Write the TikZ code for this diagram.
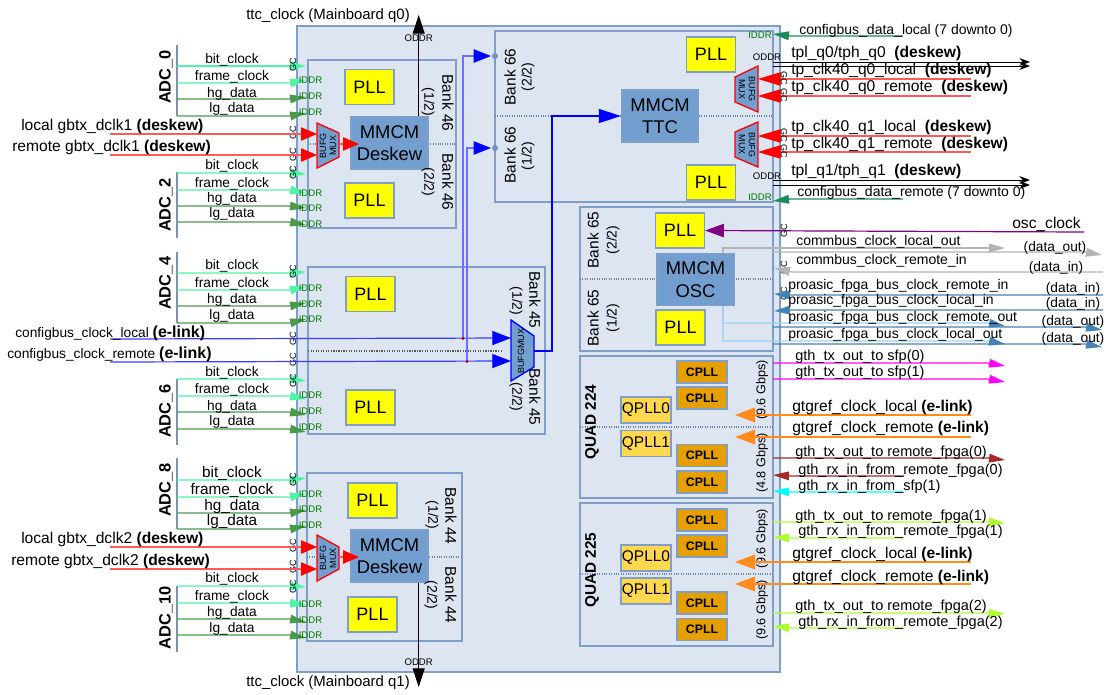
\documentclass[tikz,border=0pt]{standalone}
\usepackage{fontspec}
\setmainfont{Liberation Sans}
\usetikzlibrary{arrows.meta}

\definecolor{fpgafill}{HTML}{DDE5F0}
\definecolor{boxline}{HTML}{7F9FC8}
\definecolor{mmcmfill}{HTML}{729FCF}
\definecolor{pllfill}{HTML}{FFFF00}
\definecolor{cpllfill}{HTML}{E69F00}
\definecolor{qpllfill}{HTML}{FFD84D}
\definecolor{clkline}{HTML}{4DF5A5}
\definecolor{datline}{HTML}{4A9A4A}
\definecolor{iddrtxt}{HTML}{007A00}
\definecolor{cfgdata}{HTML}{1E8A5A}
\definecolor{redline}{HTML}{FF5A5A}
\definecolor{proasic}{HTML}{4682B4}
\definecolor{lightblue}{HTML}{9CD0F0}
\definecolor{gtgorange}{HTML}{FF8C1A}
\definecolor{brownred}{HTML}{A52A2A}
\definecolor{limeline}{HTML}{ADFF2F}
\definecolor{purpleosc}{HTML}{800080}
\definecolor{blueline}{HTML}{3C3CFF}
\definecolor{sfpmag}{HTML}{FF00FF}
\definecolor{sfpcyan}{HTML}{00FFFF}
\definecolor{grayline}{HTML}{B4B4B4}

\tikzset{
  bankbox/.style={draw=boxline, line width=1.1pt},
  pll/.style={draw=boxline, line width=1pt, fill=pllfill, minimum width=36.75pt, minimum height=26.25pt, inner sep=0pt, font=\fontsize{13.5}{16}\selectfont},
  mmcm/.style={draw=boxline, line width=1pt, fill=mmcmfill, minimum width=57.75pt, minimum height=39pt, inner sep=0pt, align=center, font=\fontsize{13.8}{17}\selectfont},
  cpll/.style={draw=boxline, line width=1pt, fill=cpllfill, minimum width=37.5pt, minimum height=16.5pt, inner sep=0pt, font=\bfseries\fontsize{9.2}{11}\selectfont},
  qpll/.style={draw=boxline, line width=1pt, fill=qpllfill, minimum width=37.5pt, minimum height=19.5pt, inner sep=0pt, font=\fontsize{11.6}{14}\selectfont},
  muxtxt/.style={inner sep=0pt, align=center, font=\fontsize{6.75}{7.5}\selectfont},
  gctag/.style={inner sep=0pt, rotate=90, font=\fontsize{6.8}{7}\selectfont},
  iddr/.style={inner sep=0pt, text=iddrtxt, font=\fontsize{7.2}{8}\selectfont},
  oddr/.style={inner sep=0pt, font=\fontsize{7.2}{8}\selectfont},
  adclbl/.style={inner sep=0pt, font=\fontsize{10.3}{12}\selectfont},
  adclblb/.style={inner sep=0pt, font=\fontsize{11.5}{13}\selectfont},
  adcname/.style={inner sep=0pt, rotate=90, font=\bfseries\fontsize{12.3}{14}\selectfont},
  banktxt/.style={inner sep=0pt, font=\fontsize{11.6}{13}\selectfont},
  parttxt/.style={inner sep=0pt, font=\fontsize{10.5}{12}\selectfont},
  gbpstxt/.style={inner sep=0pt, rotate=90, font=\fontsize{9.5}{11}\selectfont},
  txtm/.style={inner sep=0pt, anchor=west, font=\fontsize{11.7}{13}\selectfont},
  txts/.style={inner sep=0pt, anchor=west, font=\fontsize{10.5}{12}\selectfont},
  txtd/.style={inner sep=0pt, font=\fontsize{10.3}{12}\selectfont},
  redtip/.style={draw=redline, line width=0.9pt, -{Triangle[length=12pt,width=10pt,color=red]}},
  bluetip/.style={draw=blueline, line width=0.9pt, -{Triangle[length=14pt,width=10.5pt,color=blue]}},
  thintip/.style={line width=0.9pt, -{Triangle[length=12pt,width=6.5pt]}},
  blacktip/.style={line width=0.7pt, -{Triangle[length=14pt,width=9pt]}},
  wiretip/.style={line width=0.7pt, -{Stealth[length=8pt,width=6pt]}},
  dots/.style={densely dotted, line width=0.8pt, draw=boxline!85!black},
}

\begin{document}
\begin{tikzpicture}[x=0.75pt,y=-0.75pt]
    \useasboundingbox (0,0) rectangle (1106,694);

    % FPGA and banks
    \draw[bankbox, fill=fpgafill] (297,26) rectangle (780,672);
    \draw[bankbox] (308,60) rectangle (456,228);
    \draw[bankbox] (308,267) rectangle (545,434);
    \draw[bankbox] (307,473) rectangle (462,641);
    \draw[bankbox] (495,31) rectangle (773,202);
    \draw[bankbox] (580,207) rectangle (773,351);
    \draw[bankbox] (580,356) rectangle (773,498);
    \draw[bankbox] (580,503) rectangle (773,646);

    \draw[dots] (308,144) -- (456,144);
    \draw[dots] (307,557) -- (462,557);
    \draw[dots] (495,116) -- (773,116);
    \draw[dots] (580,279) -- (773,279);
    \draw[dots] (580,427) -- (773,427);
    \draw[dots] (580,574) -- (773,574);
    \draw[densely dotted, line width=0.9pt, gray!70!black] (308,351) -- (502,351);

    % PLL and MMCM blocks
    \foreach \n/\x/\y in {a/369.5/87, b/369.5/200.5, c/370.5/294, d/370.5/407.5, e/372.5/500.5, f/372.5/614.5,
                          g/711/54.5, h/711/182.5, i/680/230.5, j/680.5/327.5}
      \node[pll] (pll\n) at (\x,\y) {PLL};
    \node[mmcm] (mmcmA) at (389.5,143) {MMCM\\Deskew};
    \node[mmcm] (mmcmB) at (389.5,556) {MMCM\\Deskew};
    \node[mmcm] (mmcmT) at (660,116) {MMCM\\TTC};
    \node[mmcm] (mmcmO) at (695.5,279.5) {MMCM\\OSC};
    \foreach \n/\y in {a/372, b/398, c/455.5, d/482, e/520, f/546, g/603, h/629.5}
      \node[cpll] (cpll\n) at (702,\y) {CPLL};
    \foreach \n/\t/\y in {a/0/410, b/1/443.5, c/0/558, d/1/591}
      \node[qpll] (qpll\n) at (646,\y) {QPLL\t};

    % BUFG muxes
    \draw[draw=red, line width=1pt, fill=mmcmfill] (317,123) -- (339,133) -- (339,157) -- (317,168) -- cycle;
    \draw[draw=red, line width=1pt, fill=mmcmfill] (317,535) -- (339,547) -- (339,569) -- (317,581) -- cycle;
    \draw[draw=red, line width=1pt, fill=mmcmfill] (758,66) -- (735,77) -- (735,102) -- (758,112) -- cycle;
    \draw[draw=red, line width=1pt, fill=mmcmfill] (758,122) -- (735,132) -- (735,157) -- (758,167) -- cycle;
    \draw[draw=blue, line width=1pt, fill=mmcmfill] (511,320) -- (534,336) -- (534,367) -- (511,381) -- cycle;
    \node[muxtxt, rotate=90] (muxA) at (328,145.5) {BUFG\\MUX};
    \node[muxtxt, rotate=90] (muxB) at (328,558) {BUFG\\MUX};
    \node[muxtxt, rotate=-90] (muxC) at (747,89) {BUFG\\MUX};
    \node[muxtxt, rotate=-90] (muxD) at (747,144.5) {BUFG\\MUX};
    \node[muxtxt, rotate=90] (muxE) at (521,351) {BUFGMUX};

    % bank names
    \foreach \n/\t/\x/\y/\r in {a/Bank 46/448/103/-90, b/Bank 46/448/182/-90, c/Bank 45/535/300/-90, d/Bank 45/535/397/-90,
                                e/Bank 44/451/516/-90, f/Bank 44/451/595/-90, g/Bank 66/510/77/90, h/Bank 66/510/155/90,
                                i/Bank 65/593/240/90, j/Bank 65/593/318/90}
      \node[banktxt, rotate=\r] (bank\n) at (\x,\y) {\t};
    \foreach \n/\t/\x/\y/\r in {a/(1\slash 2)/428/102/-90, b/(2\slash 2)/428/182/-90, c/(1\slash 2)/516/301/-90, d/(2\slash 2)/516/397/-90,
                                e/(1\slash 2)/432/515/-90, f/(2\slash 2)/431/595/-90, g/(2\slash 2)/528/77/90, h/(1\slash 2)/528/156/90,
                                i/(2\slash 2)/613/240/90, j/(1\slash 2)/613/318/90}
      \node[parttxt, rotate=\r] (part\n) at (\x,\y) {\t};
    \node[adcname, font=\bfseries\fontsize{11.5}{13}\selectfont] (quadA) at (592,422) {QUAD 224};
    \node[adcname, font=\bfseries\fontsize{11.5}{13}\selectfont] (quadB) at (592,570) {QUAD 225};
    \node[gbpstxt] (gbpsA) at (762,390) {(9.6 Gbps)};
    \node[gbpstxt] (gbpsB) at (762,463) {(4.8 Gbps)};
    \node[gbpstxt] (gbpsC) at (762,539) {(9.6 Gbps)};
    \node[gbpstxt] (gbpsD) at (762,610) {(9.6 Gbps)};

    % ADC groups
    \foreach \n/\t/\y/\ya/\yb in {a/0/77/45/116, b/2/205/172/238, c/4/283/252/323, d/6/411/379/445, e/8/490/458/529, f/10/618/586/652}{
      \node[adcname] (adc\n) at (166,\y) {ADC\_\t};
      \draw[boxline!60!gray, line width=1.1pt] (177,\ya) -- (177,\yb);
    }
    \foreach \t/\c/\l/\yl/\yt/\yx [count=\i] in {
        bit\_clock/clkline/adclbl/66/66/60, frame\_clock/clkline/adclbl/83/80/77, hg\_data/datline/adclbl/99/97/94, lg\_data/datline/adclbl/116/113/109,
        bit\_clock/clkline/adclbl/173/174/166, frame\_clock/clkline/adclbl/190/193/184, hg\_data/datline/adclbl/206/208/199, lg\_data/datline/adclbl/222/225/214,
        bit\_clock/clkline/adclbl/273/272/266, frame\_clock/clkline/adclbl/290/287/284, hg\_data/datline/adclbl/306/303/300, lg\_data/datline/adclbl/323/319/316,
        bit\_clock/clkline/adclbl/379/381/373, frame\_clock/clkline/adclbl/396/399/390, hg\_data/datline/adclbl/412/415/407, lg\_data/datline/adclbl/429/432/422,
        bit\_clock/clkline/adclblb/480/478/473, frame\_clock/clkline/adclblb/497/494/490, hg\_data/datline/adclblb/513/510/507, lg\_data/datline/adclblb/529/526/522,
        bit\_clock/clkline/adclbl/586/587/579, frame\_clock/clkline/adclbl/603/605/597, hg\_data/datline/adclbl/619/622/613, lg\_data/datline/adclbl/635/638/629}{
      \coordinate (sa\i) at (177,\yl);
      \coordinate (sb\i) at (290,\yl);
      \coordinate (sc\i) at (306,\yt);
      \draw[thintip, \c] (sa\i) -- (sb\i) -- (sc\i);
      \node[\l] (sig\i) at (232,\yx) {\t};
    }
    \foreach \y [count=\i] in {64.5,133,155,173,272,339,360,381,480,546,567,587}
      \node[gctag] (gcl\i) at (293,\y) {GC};
    \foreach \y [count=\i] in {80,96,112,193,208,224,288,304,319,395,411,427,494,509,525,604,620,635}
      \node[iddr] (iddl\i) at (310.5,\y) {IDDR};

    % deskew clocks
    \foreach \n/\ya/\yb/\ym in {a/134/155/144, b/547/569/557}{
      \coordinate (ra\n) at (110,\ya);
      \coordinate (rb\n) at (317,\ya);
      \coordinate (rc\n) at (110,\yb);
      \coordinate (rd\n) at (317,\yb);
      \coordinate (re\n) at (339,\ym);
      \coordinate (rf\n) at (359,\ym);
      \draw[redtip] (ra\n) -- (rb\n);
      \draw[redtip] (rc\n) -- (rd\n);
      \draw[redtip] (re\n) -- (rf\n);
    }
    \node[txtm] (dclkA) at (21,126) {local gbtx\_dclk1 {\bfseries (deskew)}};
    \node[txtm] (dclkB) at (12,147) {remote gbtx\_dclk1 {\bfseries (deskew)}};
    \node[txtm] (dclkC) at (21,539) {local gbtx\_dclk2 {\bfseries (deskew)}};
    \node[txtm] (dclkD) at (11,561) {remote gbtx\_dclk2 {\bfseries (deskew)}};

    % ttc clock
    \coordinate (ttcA) at (418.7,15);
    \coordinate (ttcB) at (418.7,687);
    \draw[blacktip] (mmcmA.north -| ttcA) -- (ttcA);
    \draw[blacktip] (mmcmB.south -| ttcB) -- (ttcB);
    \node[oddr] (oddrA) at (418.7,38.5) {ODDR};
    \node[oddr] (oddrB) at (418.7,662.5) {ODDR};
    \node[txtm, font=\fontsize{11.2}{13}\selectfont] (ttcqA) at (246,16) {ttc\_clock (Mainboard q0)};
    \node[txtm, font=\fontsize{11.2}{13}\selectfont] (ttcqB) at (246,683) {ttc\_clock (Mainboard q1)};

    % configbus clock
    \coordinate (cfgA) at (110,339);
    \coordinate (cfgB) at (511,338);
    \coordinate (cfgC) at (110,362);
    \coordinate (cfgD) at (511,361);
    \coordinate (dotA) at (463,338.5);
    \coordinate (dotB) at (467,361.5);
    \coordinate (bankA) at (495,56);
    \coordinate (bankB) at (495,148);
    \coordinate (muxOut) at (534,351);
    \draw[bluetip] (cfgA) -- (cfgB);
    \draw[bluetip] (cfgC) -- (cfgD);
    \draw[draw=blueline!75, line width=0.9pt, -{Triangle[length=13pt,width=10pt,color=blue]}] (dotA) -- (463,56) -- (491,56);
    \draw[draw=blueline!75, line width=0.9pt, -{Triangle[length=13pt,width=10pt,color=blue]}] (dotB) -- (467,148) -- (491,148);
    \draw[draw=blue, line width=0.9pt, -{Triangle[length=16.5pt,width=10.5pt]}] (muxOut) -- (552,351) -- (552,116) -- (mmcmT.west);
    \fill[red!70!black] (dotA) circle (1.6);
    \fill[red!70!black] (dotB) circle (1.6);
    \fill[boxline!90!blue] (bankA) circle (3);
    \fill[boxline!90!blue] (bankB) circle (3);
    \node[txtd, anchor=west] (cfgclkA) at (15,333) {configbus\_clock\_local {\bfseries\fontsize{12}{14}\selectfont (e-link)}};
    \node[txtd, anchor=west] (cfgclkB) at (7,354) {configbus\_clock\_remote {\bfseries\fontsize{12}{14}\selectfont (e-link)}};

    % configbus data
    \foreach \n/\yl/\yt in {a/36/34, b/199/201}{
      \coordinate (cda\n) at (903,\yl);
      \coordinate (cdb\n) at (791,\yl);
      \coordinate (cdc\n) at (773,\yt);
      \draw[thintip, cfgdata] (cda\n) -- (cdb\n) -- (cdc\n);
    }
    \node[iddr] (iddrA) at (760,35) {IDDR};
    \node[iddr] (iddrB) at (760,197) {IDDR};
    \node[txts] (cfgdA) at (799,31) {configbus\_data\_local (7 downto 0)};
    \node[txts] (cfgdB) at (797,193) {configbus\_data\_remote (7 downto 0)};

    % tp outputs
    \foreach \y [count=\i] in {62,66,180,185}{
      \coordinate (tpa\i) at (773,\y);
      \coordinate (tpb\i) at (1030,\y);
      \draw[wiretip] (tpa\i) -- (tpb\i);
    }
    \node[oddr] (oddrC) at (767,57) {ODDR};
    \node[oddr] (oddrD) at (767,176) {ODDR};
    \node[txtm] (tplA) at (791,53) {tpl\_q0/tph\_q0~~{\bfseries (deskew)}};
    \node[txtm] (tplB) at (791,171) {tpl\_q1/tph\_q1~~{\bfseries (deskew)}};

    % tp clocks
    \foreach \t/\y/\yx [count=\i] in {tp\_clk40\_q0\_local/79/70, tp\_clk40\_q0\_remote/96/87, tp\_clk40\_q1\_local/136/127, tp\_clk40\_q1\_remote/152/144}{
      \coordinate (tca\i) at (971,\y);
      \coordinate (tcb\i) at (758,\y);
      \draw[redtip, -{Triangle[length=17pt,width=10pt,color=red]}] (tca\i) -- (tcb\i);
      \node[gctag, rotate=180] (gcr\i) at (784,\y-1) {GC};
      \node[txtm] (tpc\i) at (791,\yx) {\t~~{\bfseries (deskew)}};
    }

    % osc clock
    \coordinate (oscA) at (1084,232);
    \draw[purpleosc, line width=0.9pt, -{Triangle[length=14pt,width=10pt]}] (oscA) -- (plli.east);
    \node[txtm] (oscB) at (1012,224) {osc\_clock};
    \foreach \y [count=\i] in {231,268,294}
      \node[gctag] (gco\i) at (784,\y) {GC};

    % commbus and proasic
    \coordinate (mbusA) at (723,248);
    \coordinate (mbusB) at (723,323);
    \coordinate (mbusC) at (723,341);
    \coordinate (mbusD) at (988,248);
    \coordinate (mbusE) at (1005,248);
    \coordinate (mbusF) at (988,323);
    \coordinate (mbusG) at (1005,326);
    \coordinate (mbusH) at (988,341);
    \coordinate (mbusI) at (1005,344);
    \draw[thintip, grayline] (mmcmO.north -| mbusA) -- (mbusA) -- (mbusD) -- (mbusE);
    \draw[thintip, lightblue, -{Triangle[length=12pt,width=6.5pt,color=proasic]}] (mmcmO.south -| mbusB) -- (mbusB) -- (mbusF) -- (mbusG);
    \draw[thintip, lightblue, -{Triangle[length=12pt,width=6.5pt,color=proasic]}] (mmcmO.south -| mbusC) -- (mbusC) -- (mbusH) -- (mbusI);
    \foreach \c/\ya/\yb [count=\i] in {grayline/252/255, proasic/327/330, proasic/344/347}{
      \coordinate (oua\i) at (773,\ya);
      \coordinate (oub\i) at (1085,\ya);
      \coordinate (ouc\i) at (1102,\yb);
      \draw[thintip, \c] (oua\i) -- (oub\i) -- (ouc\i);
    }
    \foreach \c/\yl/\yt [count=\i] in {grayline/272/268, proasic/295/294, proasic/310/311}{
      \coordinate (ina\i) at (1103,\yl);
      \coordinate (inb\i) at (792,\yl);
      \coordinate (inc\i) at (774,\yt);
      \draw[thintip, \c] (ina\i) -- (inb\i) -- (inc\i);
    }
    \foreach \t/\x/\y [count=\i] in {commbus\_clock\_local\_out/796/242, commbus\_clock\_remote\_in/796/261,
                                     proasic\_fpga\_bus\_clock\_remote\_in/788/286, proasic\_fpga\_bus\_clock\_local\_in/788/301,
                                     proasic\_fpga\_bus\_clock\_remote\_out/788/318, proasic\_fpga\_bus\_clock\_local\_out/788/335}
      \node[txts] (bus\i) at (\x,\y) {\t};
    \foreach \t/\x/\y [count=\i] in {(data\_out)/1055/248, (data\_in)/1056/268, (data\_in)/1073/289, (data\_in)/1073/304, (data\_out)/1073/322, (data\_out)/1073/339}
      \node[txtd] (dat\i) at (\x,\y) {\t};

    % gth outputs and inputs
    \foreach \t/\c/\yl/\yt/\yx [count=\i] in {
        gth\_tx\_out\_to sfp(0)/sfpmag/363/366/357, gth\_tx\_out\_to sfp(1)/sfpmag/379/382/373,
        gth\_tx\_out\_to remote\_fpga(0)/brownred/458/460/453, gth\_tx\_out\_to remote\_fpga(1)/limeline/522/523/517,
        gth\_tx\_out\_to remote\_fpga(2)/limeline/613/614/607}{
      \coordinate (txa\i) at (773,\yl);
      \coordinate (txb\i) at (988,\yl);
      \coordinate (txc\i) at (1005,\yt);
      \draw[thintip, \c] (txa\i) -- (txb\i) -- (txc\i);
      \node[txts, font=\fontsize{10.9}{12}\selectfont] (txt\i) at (795,\yx) {\t};
    }
    \foreach \t/\c/\yl/\yt/\yx [count=\i] in {
        gth\_rx\_in\_from\_remote\_fpga(0)/brownred/476/475/471, gth\_rx\_in\_from\_sfp(1)/sfpcyan/492/491/487,
        gth\_rx\_in\_from\_remote\_fpga(1)/limeline/538/537/532, gth\_rx\_in\_from\_remote\_fpga(2)/limeline/628/626/623}{
      \coordinate (rxa\i) at (904,\yl);
      \coordinate (rxb\i) at (791,\yl);
      \coordinate (rxc\i) at (773,\yt);
      \draw[thintip, \c] (rxa\i) -- (rxb\i) -- (rxc\i);
      \node[txts, font=\fontsize{10.9}{12}\selectfont] (rxt\i) at (798,\yx) {\t};
    }

    % gtgref clocks
    \foreach \t/\yl/\yx [count=\i] in {
        gtgref\_clock\_local/415/407, gtgref\_clock\_remote/437/428,
        gtgref\_clock\_local/562/554, gtgref\_clock\_remote/584/577}{
      \coordinate (gta\i) at (971,\yl);
      \coordinate (gtb\i) at (735,\yl);
      \draw[gtgorange, line width=0.9pt, -{Triangle[length=15pt,width=11pt]}] (gta\i) -- (gtb\i);
      \node[txtm] (gtt\i) at (792,\yx) {\t{} {\bfseries (e-link)}};
    }
\end{tikzpicture}
\end{document}
